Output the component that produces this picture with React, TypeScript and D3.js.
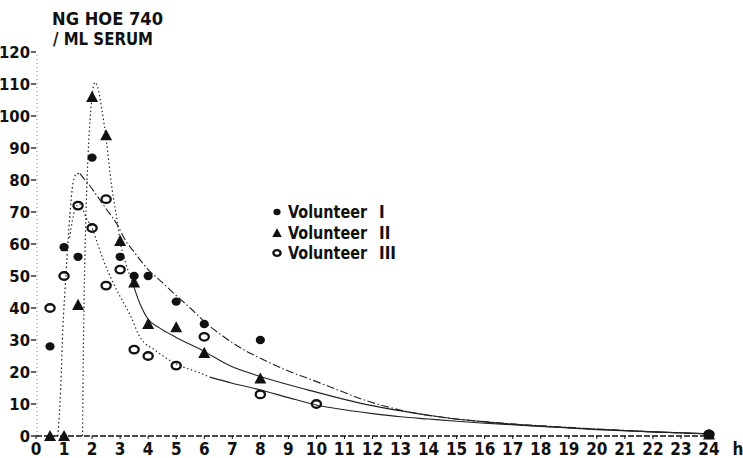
import React from "react";
import * as d3 from "d3";

// ---- Data ----
const xTicks = d3.range(0, 25);
const yTicks = d3.range(0, 130, 10);

const vol1Points: [number, number][] = [
  [0.5, 28], [1, 59], [1.5, 56], [2, 87], [3, 56], [3.5, 50], [4, 50],
  [5, 42], [6, 35], [8, 30], [24, 0.5],
];
const vol2Points: [number, number][] = [
  [0.5, 0], [1, 0], [1.5, 41], [2, 106], [2.5, 94], [3, 61], [3.5, 48],
  [4, 35], [5, 34], [6, 26], [8, 18], [24, 0.5],
];
const vol3Points: [number, number][] = [
  [0.5, 40], [1, 50], [1.5, 72], [2, 65], [2.5, 74], [2.5, 47], [3, 52],
  [3.5, 27], [4, 25], [5, 22], [6, 31], [8, 13], [10, 10], [24, 0.5],
];

// fitted curves (knots)
const vol1Curve: [number, number][] = [
  [0.78, 0], [0.88, 15], [0.96, 34], [1.03, 45], [1.1, 55], [1.2, 68], [1.32, 79],
  [1.45, 82], [1.57, 82], [1.7, 80.5], [1.85, 79], [2.1, 76], [2.5, 71], [2.9, 66],
  [3.2, 61], [3.5, 57.5], [4, 52], [4.5, 48], [4.8, 45.5], [5.5, 40], [6.1, 35],
  [6.7, 31], [7.3, 27.5], [8, 24.3], [9, 20.3], [9.7, 18], [10.5, 15.3], [11.8, 11],
  [13.2, 7.7], [14.7, 5.6], [16.1, 4.4], [18, 3.2], [20, 2.2], [22, 1.3], [24, 0.6],
];
const vol2Curve: [number, number][] = [
  [1.66, 0], [1.68, 20], [1.72, 45], [1.76, 62], [1.82, 80], [1.9, 95], [2.0, 106],
  [2.1, 110.5], [2.2, 109], [2.35, 102], [2.5, 93], [2.7, 78], [2.9, 67], [3.0, 61],
  [3.2, 54], [3.42, 48.5], [3.7, 41.5], [4.0, 36.5], [4.4, 33.8], [5, 30.8], [5.96, 26.6],
  [6.9, 22], [8, 18.6], [9.66, 14.5], [11.8, 9.8], [12.9, 8], [14, 6.5], [15, 5.3],
  [16, 4.4], [18, 3.1], [20, 2.1], [22, 1.3], [24, 0.7],
];
const vol3Curve: [number, number][] = [
  [1.2, 62], [1.4, 71], [1.55, 72.5], [1.8, 68], [2.0, 65], [2.2, 60], [2.4, 55],
  [2.8, 47], [3.4, 37], [3.7, 31], [4.3, 26.5], [5, 22.5], [5.85, 19.7], [6.2, 18.4],
  [7, 16.5], [8, 14.4], [9, 12], [10, 9.7], [11, 8.2], [12, 7], [13, 6], [14, 5.3],
  [15, 4.6], [16, 4], [18, 3], [20, 2], [22, 1.3], [24, 0.7],
];
const vol1DashFrom = 1.57;
const vol2SolidFrom = 3.42;
const vol3SolidFrom = 6.2;

const titleLines = ["NG  HOE  740", "/ ML  SERUM"];
const legendLabels = ["Volunteer", "Volunteer", "Volunteer"];
const legendNumerals = ["I", "II", "III"];
const xUnit = "h";

const W = 743;
const H = 458;
const FONT = "'Liberation Sans Narrow', 'DejaVu Sans Condensed', 'Roboto Condensed', Arial, sans-serif";
const INK = "#111";

const x = d3.scaleLinear().domain([0, 24]).range([36, 709]);
const y = d3.scaleLinear().domain([0, 120]).range([436, 52]);

const line = d3
  .line<[number, number]>()
  .x((d) => x(d[0]))
  .y((d) => y(d[1]))
  .curve(d3.curveMonotoneX);

function Dot({ cx, cy, r = 4.6 }: { cx: number; cy: number; r?: number }) {
  return <ellipse cx={cx} cy={cy} rx={r} ry={r * 0.9} fill={INK} />;
}
function Tri({ cx, cy, s = 6 }: { cx: number; cy: number; s?: number }) {
  const p = [
    [cx, cy - s],
    [cx + s, cy + s * 0.85],
    [cx - s, cy + s * 0.85],
  ];
  return <polygon points={p.map((q) => q.join(",")).join(" ")} fill={INK} />;
}
function Ring({ cx, cy, r = 4.6 }: { cx: number; cy: number; r?: number }) {
  return <ellipse cx={cx} cy={cy} rx={r} ry={r * 0.82} fill="none" stroke={INK} strokeWidth={2.3} />;
}

export default function App() {
  const v1a = vol1Curve.filter((d) => d[0] <= vol1DashFrom);
  const v1b = vol1Curve.filter((d) => d[0] >= vol1DashFrom);
  const v2a = vol2Curve.filter((d) => d[0] <= vol2SolidFrom);
  const v2b = vol2Curve.filter((d) => d[0] >= vol2SolidFrom);
  const v3a = vol3Curve.filter((d) => d[0] <= vol3SolidFrom);
  const v3b = vol3Curve.filter((d) => d[0] >= vol3SolidFrom);

  return (
    <svg
      width={W}
      height={H}
      viewBox={`0 0 ${W} ${H}`}
      style={{ position: "absolute", left: 0, top: 0, background: "#fff" }}
      fontFamily={FONT}
      fontWeight="bold"
    >
      <rect width={W} height={H} fill="#fff" />
      {/* title */}
      <text x={52} y={25} fontSize={17} fill={INK} textLength={111} lengthAdjust="spacingAndGlyphs">
        {titleLines[0]}
      </text>
      <text x={53} y={45} fontSize={17} fill={INK} textLength={100} lengthAdjust="spacingAndGlyphs">
        {titleLines[1]}
      </text>

      {/* y axis */}
      <line x1={37} x2={37} y1={y(0)} y2={y(120)} stroke="#888" strokeWidth={1} strokeDasharray="1,3" />
      {yTicks.map((t) => (
        <g key={t}>
          <line x1={31} x2={36} y1={y(t)} y2={y(t)} stroke={INK} strokeWidth={1.3} />
          <text x={30} y={y(t)} dy="0.36em" textAnchor="end" fontSize={16.5} fill={INK}>
            {t}
          </text>
        </g>
      ))}

      {/* x axis */}
      <line x1={x(0)} x2={x(24) + 6} y1={y(0)} y2={y(0)} stroke={INK} strokeWidth={1.3} strokeDasharray="6,2" />
      {xTicks.map((t) => (
        <g key={t}>
          <line x1={x(t)} x2={x(t)} y1={y(0)} y2={y(0) + 3} stroke={INK} strokeWidth={1} />
          <text x={x(t)} y={455} textAnchor="middle" fontSize={17} fill={INK}>
            {t}
          </text>
        </g>
      ))}
      <text x={738} y={455} textAnchor="middle" fontSize={17} fill={INK}>
        {xUnit}
      </text>

      {/* fitted curves */}
      <path d={line(v1a) || ""} fill="none" stroke="#222" strokeWidth={1.2} strokeDasharray="1.6,2.6" />
      <path d={line(v1b) || ""} fill="none" stroke="#222" strokeWidth={1.1} strokeDasharray="8,2.5,1.5,2.5" />
      <path d={line(v2a) || ""} fill="none" stroke="#222" strokeWidth={1.2} strokeDasharray="1.4,2.6" />
      <path d={line(v2b) || ""} fill="none" stroke="#222" strokeWidth={1.1} />
      <path d={line(v3a) || ""} fill="none" stroke="#222" strokeWidth={1.2} strokeDasharray="1.4,2.6" />
      <path d={line(v3b) || ""} fill="none" stroke="#222" strokeWidth={1.1} />

      {/* points */}
      {vol3Points.map((d, i) => (
        <Ring key={"c" + i} cx={x(d[0])} cy={y(d[1])} />
      ))}
      {vol2Points.map((d, i) => (
        <Tri key={"t" + i} cx={x(d[0])} cy={y(d[1])} />
      ))}
      {vol1Points.map((d, i) => (
        <Dot key={"d" + i} cx={x(d[0])} cy={y(d[1])} />
      ))}

      {/* legend */}
      <Dot cx={277} cy={212} r={3.6} />
      <Tri cx={277} cy={233} s={4.8} />
      <Ring cx={277} cy={253} r={3.6} />
      {legendLabels.map((l, i) => (
        <g key={l + i}>
          <text x={288} y={218 + i * 20.5} fontSize={17} fill={INK} textLength={79} lengthAdjust="spacingAndGlyphs">
            {l}
          </text>
          <text x={379} y={218 + i * 20.5} fontSize={17} fill={INK}>
            {legendNumerals[i]}
          </text>
        </g>
      ))}
    </svg>
  );
}
